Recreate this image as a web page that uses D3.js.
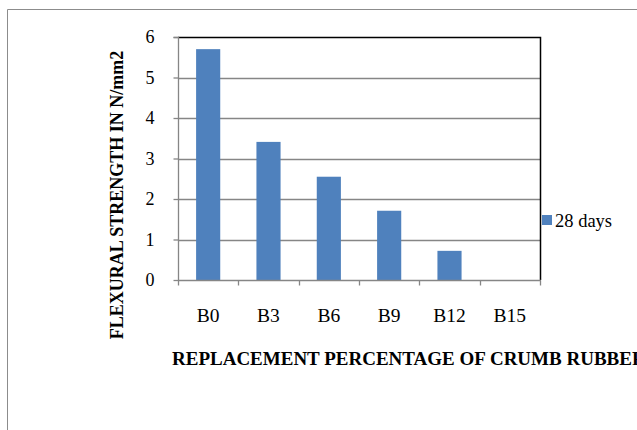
<!DOCTYPE html>
<html>
<head>
<meta charset="utf-8">
<script src="https://cdn.jsdelivr.net/npm/d3@7"></script>
<style>
  html, body { margin: 0; padding: 0; background: #fff; }
  svg { display: block; }
  svg text { font-family: "Liberation Serif", "Times New Roman", serif !important; fill: #000; }
</style>
</head>
<body>
<svg id="chart" width="637" height="430"></svg>
<script>
// Flexural strength at 28 days for each crumb rubber mix
const categories = ["B0", "B3", "B6", "B9", "B12", "B15"];
const strength28 = [5.70, 3.41, 2.55, 1.71, 0.72, 0];
const yTicks = [0, 1, 2, 3, 4, 5, 6];
const seriesName = "28 days";
const yTitle = "FLEXURAL STRENGTH IN N/mm2";
const xTitle = "REPLACEMENT PERCENTAGE OF CRUMB RUBBER";

const svg = d3.select("#chart");
const plot = { left: 178, right: 540, top: 37, bottom: 280 };
const barColor = "#4F81BD";
const gridColor = "#868686";

// Outer chart frame (runs past the right and bottom edges)
svg.append("path")
  .attr("d", "M7.5,440 V9.5 H650")
  .attr("fill", "none")
  .attr("stroke", "#8c8c8c")
  .attr("stroke-width", 1);

const x = d3.scaleBand().domain(categories).range([plot.left, plot.right]).padding(0);
const y = d3.scaleLinear().domain([0, 6]).range([plot.bottom, plot.top]);

// Horizontal gridlines
svg.append("g")
  .selectAll("line")
  .data(yTicks.filter(d => d > 0 && d < 6))
  .join("line")
  .attr("x1", plot.left).attr("x2", plot.right)
  .attr("y1", d => Math.round(y(d)) + 0.5).attr("y2", d => Math.round(y(d)) + 0.5)
  .attr("stroke", gridColor).attr("stroke-width", 1.3);

// Plot area border: top and right in black
svg.append("path")
  .attr("d", `M${plot.left},${plot.top + 0.5} H${plot.right + 0.5} V${plot.bottom}`)
  .attr("fill", "none").attr("stroke", "#000").attr("stroke-width", 1.5);

// Bars
const barW = x.bandwidth() * 0.4;
svg.append("g")
  .selectAll("rect")
  .data(categories.map((c, i) => ({ c, v: strength28[i] })))
  .join("rect")
  .attr("x", d => x(d.c) + (x.bandwidth() - barW) / 2)
  .attr("width", barW)
  .attr("y", d => y(d.v))
  .attr("height", d => y(0) - y(d.v))
  .attr("fill", barColor);

// Y axis
const yAxis = svg.append("g")
  .attr("transform", `translate(${plot.left + 0.5},0)`)
  .call(d3.axisLeft(y).tickValues(yTicks).tickFormat(d3.format("d")).tickSize(5).tickPadding(19));
yAxis.select(".domain").attr("stroke", gridColor).attr("stroke-width", 1.3).attr("d", `M-5,${plot.top + 0.5}H0V${plot.bottom + 0.5}`);
yAxis.selectAll(".tick line").attr("stroke", gridColor).attr("stroke-width", 1.3);
yAxis.selectAll(".tick text")
  .attr("font-size", 18).attr("fill", "#000");

// X axis with ticks on category boundaries
const xAxisG = svg.append("g").attr("transform", `translate(0,${plot.bottom + 0.5})`);
xAxisG.append("line")
  .attr("x1", plot.left).attr("x2", plot.right + 1)
  .attr("stroke", gridColor).attr("stroke-width", 1.3);
const boundaries = categories.map(c => x(c)).concat([plot.right]);
xAxisG.selectAll("line.tk")
  .data(boundaries)
  .join("line").attr("class", "tk")
  .attr("x1", d => Math.round(d) + 0.5).attr("x2", d => Math.round(d) + 0.5)
  .attr("y1", 0).attr("y2", 5)
  .attr("stroke", gridColor).attr("stroke-width", 1.3);
xAxisG.selectAll("text")
  .data(categories)
  .join("text")
  .attr("x", d => x(d) + x.bandwidth() / 2)
  .attr("y", 41)
  .attr("text-anchor", "middle")
  .attr("font-size", 19.5)
  .text(d => d);

// Axis titles
svg.append("text")
  .attr("transform", `translate(123,195) rotate(-90)`)
  .attr("text-anchor", "middle")
  .attr("font-size", 18)
  .attr("font-weight", "bold")
  .text(yTitle);

svg.append("text")
  .attr("x", 172).attr("y", 365)
  .attr("font-size", 19)
  .attr("font-weight", "bold")
  .text(xTitle);

// Legend
const leg = svg.append("g").attr("transform", "translate(542,215)");
leg.append("rect").attr("width", 10).attr("height", 10).attr("fill", barColor);
leg.append("text").attr("x", 13).attr("y", 11.5).attr("font-size", 18.5).text(seriesName);
</script>
</body>
</html>
